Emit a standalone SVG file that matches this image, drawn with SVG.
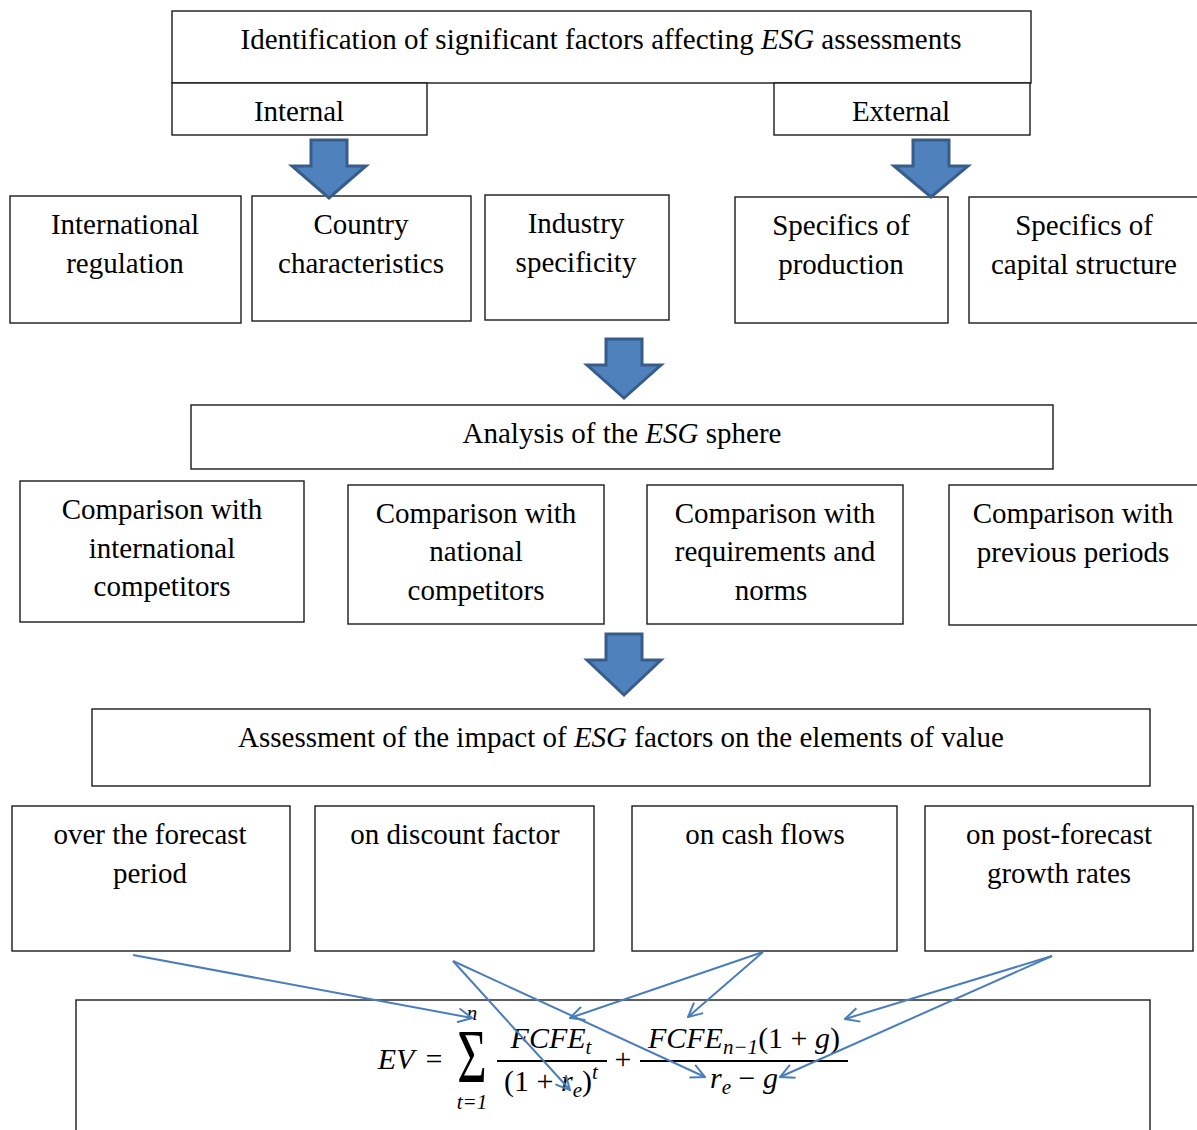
<svg xmlns="http://www.w3.org/2000/svg" width="1197" height="1130" viewBox="0 0 1197 1130">
  <style>
    .box { fill: #ffffff; stroke: #1a1a1a; stroke-width: 1.4; }
    .lbl { font-family: "Liberation Serif", "Times New Roman", serif; font-size: 29px; fill: #000000; text-anchor: middle; }
    .it { font-style: italic; }
    .blk { fill: #4f81bd; stroke: #385d8a; stroke-width: 3; stroke-linejoin: miter; }
    .link { fill: none; stroke: #4a7ebb; stroke-width: 2; marker-end: url(#vhead); }
    .math { font-family: "Liberation Serif", "Times New Roman", serif; font-size: 30px; fill: #000000; text-anchor: middle; }
    .sub { font-size: 21px; }
    .sigma { font-size: 44px; }
  </style>
  <defs>
    <marker id="vhead" viewBox="0 0 16 16" refX="15" refY="8" markerWidth="16" markerHeight="16" markerUnits="userSpaceOnUse" orient="auto">
      <path d="M1,1 L15,8 L1,15" fill="none" stroke="#4a7ebb" stroke-width="2"/>
    </marker>
  </defs>

  <!-- heading -->
  <g id="identification">
    <rect class="box" x="172" y="11" width="859" height="72"/>
    <text class="lbl" x="601" y="49">Identification of significant factors affecting <tspan class="it">ESG</tspan> assessments</text>
  </g>
  <g id="internal">
    <rect class="box" x="172" y="83" width="255" height="52"/>
    <text class="lbl" x="299" y="121">Internal</text>
  </g>
  <g id="external">
    <rect class="box" x="774" y="83" width="256" height="52"/>
    <text class="lbl" x="901" y="121">External</text>
  </g>

  <!-- factor boxes -->
  <g id="intl-regulation">
    <rect class="box" x="10" y="196" width="231" height="127"/>
    <text class="lbl" x="125" y="234">International</text>
    <text class="lbl" x="125" y="273">regulation</text>
  </g>
  <g id="country">
    <rect class="box" x="252" y="196" width="219" height="125"/>
    <text class="lbl" x="361" y="234">Country</text>
    <text class="lbl" x="361" y="273">characteristics</text>
  </g>
  <g id="industry">
    <rect class="box" x="485" y="195" width="184" height="125"/>
    <text class="lbl" x="576" y="233">Industry</text>
    <text class="lbl" x="576" y="272">specificity</text>
  </g>
  <g id="production">
    <rect class="box" x="735" y="197" width="213" height="126"/>
    <text class="lbl" x="841" y="235">Specifics of</text>
    <text class="lbl" x="841" y="274">production</text>
  </g>
  <g id="capital">
    <rect class="box" x="969" y="197" width="240" height="126"/>
    <text class="lbl" x="1084" y="235">Specifics of</text>
    <text class="lbl" x="1084" y="274">capital structure</text>
  </g>

  <!-- analysis -->
  <g id="analysis">
    <rect class="box" x="191" y="405" width="862" height="64"/>
    <text class="lbl" x="622" y="443">Analysis of the <tspan class="it">ESG</tspan> sphere</text>
  </g>
  <g id="cmp-international">
    <rect class="box" x="20" y="481" width="284" height="141"/>
    <text class="lbl" x="162" y="519">Comparison with</text>
    <text class="lbl" x="162" y="558">international</text>
    <text class="lbl" x="162" y="596">competitors</text>
  </g>
  <g id="cmp-national">
    <rect class="box" x="348" y="485" width="256" height="139"/>
    <text class="lbl" x="476" y="523">Comparison with</text>
    <text class="lbl" x="476" y="561">national</text>
    <text class="lbl" x="476" y="600">competitors</text>
  </g>
  <g id="cmp-norms">
    <rect class="box" x="647" y="485" width="256" height="139"/>
    <text class="lbl" x="775" y="523">Comparison with</text>
    <text class="lbl" x="775" y="561">requirements and</text>
    <text class="lbl" x="771" y="600">norms</text>
  </g>
  <g id="cmp-previous">
    <rect class="box" x="949" y="485" width="260" height="140"/>
    <text class="lbl" x="1073" y="523">Comparison with</text>
    <text class="lbl" x="1073" y="562">previous periods</text>
  </g>

  <!-- assessment -->
  <g id="assessment">
    <rect class="box" x="92" y="709" width="1058" height="77"/>
    <text class="lbl" x="621" y="747">Assessment of the impact of <tspan class="it">ESG</tspan> factors on the elements of value</text>
  </g>
  <g id="forecast-period">
    <rect class="box" x="12" y="806" width="278" height="145"/>
    <text class="lbl" x="150" y="844">over the forecast</text>
    <text class="lbl" x="150" y="883">period</text>
  </g>
  <g id="discount">
    <rect class="box" x="315" y="806" width="279" height="145"/>
    <text class="lbl" x="455" y="844">on discount factor</text>
  </g>
  <g id="cash-flows">
    <rect class="box" x="632" y="806" width="265" height="145"/>
    <text class="lbl" x="765" y="844">on cash flows</text>
  </g>
  <g id="growth">
    <rect class="box" x="925" y="806" width="268" height="145"/>
    <text class="lbl" x="1059" y="844">on post-forecast</text>
    <text class="lbl" x="1059" y="883">growth rates</text>
  </g>

  <!-- valuation formula -->
  <g id="formula">
    <rect class="box" x="76" y="1000" width="1074" height="140"/>
    <text class="math it" x="396" y="1069">EV</text>
    <text class="math" x="434" y="1069">=</text>
    <text class="math sigma" transform="translate(472,1082) scale(1.15,1.75)" x="0" y="0">Σ</text>
    <text class="math it sub" x="472" y="1020">n</text>
    <text class="math it sub" x="472" y="1109">t=1</text>
    <text class="math it" x="551" y="1048">FCFE<tspan class="sub" dy="6">t</tspan></text>
    <line x1="497" y1="1061" x2="607" y2="1061" stroke="#000" stroke-width="1.8"/>
    <text class="math" x="551" y="1091">(1 + <tspan class="it">r</tspan><tspan class="it sub" dy="6">e</tspan><tspan dy="-6">)</tspan><tspan class="it sub" dy="-12">t</tspan></text>
    <text class="math" x="623" y="1069">+</text>
    <text class="math" x="744" y="1048"><tspan class="it">FCFE</tspan><tspan class="it sub" dy="6">n−1</tspan><tspan dy="-6">(1 + </tspan><tspan class="it">g</tspan>)</text>
    <line x1="640" y1="1061" x2="848" y2="1061" stroke="#000" stroke-width="1.8"/>
    <text class="math" x="744" y="1088"><tspan class="it">r</tspan><tspan class="it sub" dy="6">e</tspan><tspan dy="-6"> − </tspan><tspan class="it">g</tspan></text>
  </g>

  <!-- connectors -->
  <g id="connectors">
    <polygon class="blk" points="311,140 347,140 347,166 366,166 329,198 292,166 311,166"/>
    <polygon class="blk" points="913,140 949,140 949,166 968,166 931,197 894,166 913,166"/>
    <polygon class="blk" points="606,339 642,339 642,365 661,365 624,398 587,365 606,365"/>
    <polygon class="blk" points="606,634 642,634 642,660 661,660 624,695 587,660 606,660"/>

    <line class="link" x1="133" y1="955" x2="472" y2="1018"/>
    <line class="link" x1="453" y1="961" x2="570" y2="1090"/>
    <line class="link" x1="453" y1="961" x2="705" y2="1077"/>
    <line class="link" x1="763" y1="952" x2="570" y2="1018"/>
    <line class="link" x1="763" y1="952" x2="688" y2="1017"/>
    <line class="link" x1="1052" y1="956" x2="845" y2="1019"/>
    <line class="link" x1="1052" y1="956" x2="780" y2="1077"/>
  </g>
</svg>
